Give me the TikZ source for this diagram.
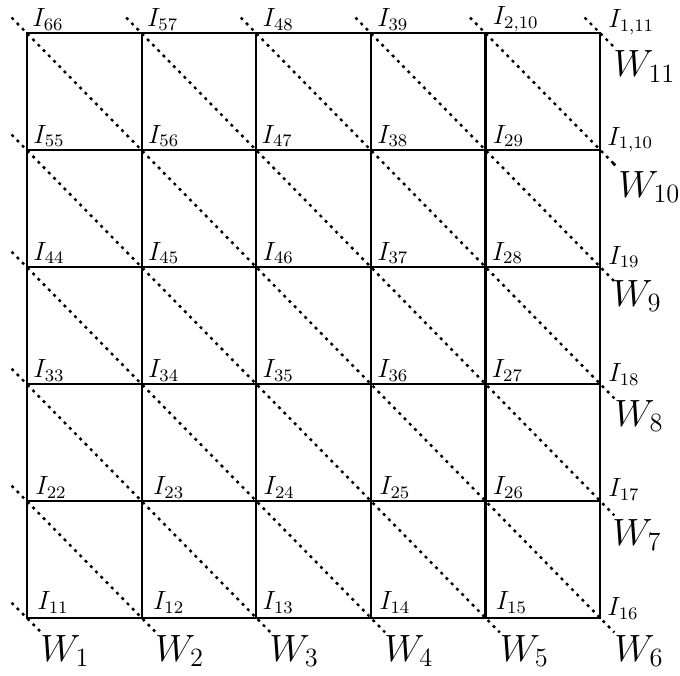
\documentclass[tikz,border=0pt]{standalone}
\begin{document}
\begin{tikzpicture}[x=52.14pt,y=53.24pt,
  gridline/.style={line width=1pt},
  diag/.style={line width=1.1pt, dash pattern=on 1.3pt off 2.1pt},
  ilabel/.style={anchor=base west, inner sep=0pt, font=\large},
  wlabel/.style={anchor=base west, inner sep=0pt, font=\LARGE}]
\useasboundingbox (-0.2356,-0.487) rectangle (5.698,5.282);
\foreach \x in {0,...,5} {\foreach \y in {0,...,5} {\coordinate (v-\x-\y) at (\x,\y);}}
% grid
\draw[gridline] (v-0-0) rectangle (v-5-5);
\foreach \i in {1,...,4} {
  \draw[gridline] (v-\i-0) -- (v-\i-5);
  \draw[gridline] (v-0-\i) -- (v-5-\i);
}
% diagonals W_k
\foreach \k/\sx/\sy/\ex/\ey/\wx/\wy in {1/0/0/0/0/13/43, 2/0/1/1/0/13/43, 3/0/2/2/0/13/43, 4/0/3/3/0/13/43, 5/0/4/4/0/14/43, 6/0/5/5/0/14/43, 7/1/5/5/1/12/44, 8/2/5/5/2/14/42, 9/3/5/5/3/12/39, 10/4/5/5/4/18/47, 11/5/5/5/5/13/44} {
  \coordinate (a\k) at ([shift={(-7pt,7pt)}]v-\sx-\sy);
  \coordinate (b\k) at ([shift={(6.5pt,-6.5pt)}]v-\ex-\ey);
  \draw[diag] (a\k) -- (b\k);
  \node[wlabel] (W\k) at ([shift={(\wx*0.455pt,-\wy*0.455pt)}]v-\ex-\ey) {$W_{\k}$};
}
\fill (b10) circle (0.9pt);
% I labels
\foreach \x/\y/\t/\dx/\dy in {
  0/0/11/10/9, 1/0/12/11/9, 2/0/13/6/9, 3/0/14/8/9, 4/0/15/10/9, 5/0/16/7/3,
  0/1/22/8/7, 1/1/23/11/7, 2/1/24/7/7, 3/1/25/8/7, 4/1/26/7/7, 5/1/17/8/5,
  0/2/33/6/7, 1/2/34/6/7, 2/2/35/6/7, 3/2/36/6/7, 4/2/27/6/7, 5/2/18/8/3,
  0/3/44/6/7, 1/3/45/6/7, 2/3/46/6/7, 3/3/37/6/7, 4/3/28/6/7, 5/3/19/8/3,
  0/4/55/6/7, 1/4/56/6/7, 2/4/47/5/7, 3/4/38/6/7, 4/4/29/7/7, 5/4/{1,10}/7/5,
  0/5/66/5/6, 1/5/57/5/6, 2/5/48/6/6, 3/5/39/6/6, 4/5/{2,10}/7/8, 5/5/{1,11}/8/5} {
  \node[ilabel] (I-\x-\y) at ([shift={(\dx*0.455pt,\dy*0.455pt)}]v-\x-\y) {$I_{\t}$};
}
\end{tikzpicture}
\end{document}
